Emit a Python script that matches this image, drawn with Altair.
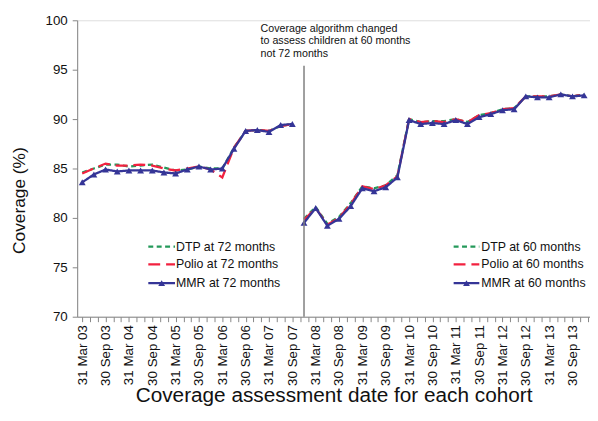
import json
import altair as alt
import pandas as pd

# ---------------- data ----------------
quarters_72 = ["Mar 03", "Jun 03", "Sep 03", "Dec 03", "Mar 04", "Jun 04", "Sep 04", "Dec 04",
               "Mar 05", "Jun 05", "Sep 05", "Dec 05", "Mar 06", "Jun 06", "Sep 06", "Dec 06",
               "Mar 07", "Jun 07", "Sep 07"]
dtp_72 = [84.6, 85.0, 85.4, 85.4, 85.2, 85.3, 85.4, 85.1, 84.8, 84.9, 85.2, 85.0, 85.0, 87.1, 88.8, 88.9, 88.8, 89.3, 89.5]
polio_72 = [84.5, 85.0, 85.5, 85.3, 85.3, 85.4, 85.3, 85.0, 84.8, 85.0, 85.2, 84.9, 84.1, 87.1, 88.8, 88.9, 88.8, 89.3, 89.5]
mmr_72 = [83.6, 84.4, 84.9, 84.7, 84.8, 84.8, 84.8, 84.6, 84.5, 84.9, 85.2, 84.9, 85.0, 87.0, 88.8, 88.9, 88.7, 89.4, 89.5]

quarters_60 = ["Dec 07", "Mar 08", "Jun 08", "Sep 08", "Dec 08", "Mar 09", "Jun 09", "Sep 09", "Dec 09",
               "Mar 10", "Jun 10", "Sep 10", "Dec 10", "Mar 11", "Jun 11", "Sep 11", "Dec 11",
               "Mar 12", "Jun 12", "Sep 12", "Dec 12", "Mar 13", "Jun 13", "Sep 13", "Dec 13"]
dtp_60 = [79.9, 81.1, 79.4, 80.1, 81.5, 83.2, 83.0, 83.3, 84.3, 90.0, 89.7, 89.8, 89.8, 90.0, 89.7, 90.4, 90.6, 91.0, 91.1, 92.3, 92.3, 92.3, 92.5, 92.3, 92.5]
polio_60 = [79.8, 81.0, 79.3, 80.0, 81.4, 83.2, 82.9, 83.3, 84.2, 90.0, 89.7, 89.8, 89.7, 90.0, 89.7, 90.4, 90.6, 91.0, 91.1, 92.3, 92.3, 92.3, 92.5, 92.3, 92.5]
mmr_60 = [79.5, 81.0, 79.2, 79.9, 81.2, 83.0, 82.7, 83.1, 84.1, 89.9, 89.5, 89.6, 89.5, 89.9, 89.5, 90.2, 90.5, 90.9, 91.0, 92.3, 92.2, 92.2, 92.5, 92.3, 92.4]

x_labels = ["31 Mar 03", "30 Sep 03", "31 Mar 04", "30 Sep 04", "31 Mar 05", "30 Sep 05",
            "31 Mar 06", "30 Sep 06", "31 Mar 07", "30 Sep 07", "31 Mar 08", "30 Sep 08",
            "31 Mar 09", "30 Sep 09", "31 Mar 10", "30 Sep 10", "31 Mar 11", "30 Sep 11",
            "31 Mar 12", "30 Sep 12", "31 Mar 13", "30 Sep 13"]

legend_72 = ["DTP at 72 months", "Polio at 72 months", "MMR at 72 months"]
legend_60 = ["DTP at 60 months", "Polio at 60 months", "MMR at 60 months"]

change_quarter = "Dec 07"
annotation = ["Coverage algorithm changed", "\u00a0to assess children at 60 months", "\u00a0not 72 months"]

# ---------------- helpers ----------------
MON = {"Mar": 3, "Jun": 6, "Sep": 9, "Dec": 12}


def month_index(q):
    m, y = q.split()
    return (int(y) - 3) * 12 + MON[m] - 3


rows = []
for vac, s72, s60 in [("DTP", dtp_72, dtp_60), ("Polio", polio_72, polio_60), ("MMR", mmr_72, mmr_60)]:
    for q, v in zip(quarters_72, s72):
        rows.append({"vaccine": vac, "cohort": "72", "m": month_index(q), "v": v})
    for q, v in zip(quarters_60, s60):
        rows.append({"vaccine": vac, "cohort": "60", "m": month_index(q), "v": v})
df = pd.DataFrame(rows)

styles = {
    "DTP": {"color": "#24995a", "dash": [5, 3.5]},
    "Polio": {"color": "#f2213f", "dash": [12, 6]},
    "MMR": {"color": "#353597", "dash": [1, 0]},
}

x_scale = alt.Scale(domain=[-1.3, 130.5], nice=False, zero=False)
y_scale = alt.Scale(domain=[70, 100], nice=False, zero=False)

label_expr = ("datum.value % 6 == 0 && datum.value <= 126 ? "
              + json.dumps(x_labels) + "[datum.value / 6] : ''")

x_axis = alt.Axis(values=list(range(0, 131, 2)), labelExpr=label_expr, labelAngle=270,
                  labelAlign="right", labelBaseline="middle", labelOverlap=False, labelFlush=False,
                  labelFontSize=13.5, labelPadding=3, labelColor="#111111",
                  tickSize=5, tickColor="#868686", domainColor="#868686", grid=False,
                  title="Coverage assessment date for each cohort", titleFontSize=21,
                  titleFontWeight="normal", titleColor="#111111", titleY=80, titleBaseline="middle")
y_axis = alt.Axis(values=[70, 75, 80, 85, 90, 95, 100], labelFontSize=13.5, labelPadding=5,
                  labelColor="#111111", tickSize=5, tickColor="#868686", domainColor="#868686",
                  grid=False, title="Coverage (%)", titleFontSize=17.5, titleFontWeight="normal",
                  titleColor="#111111", titleX=-58, titleY=182, titleBaseline="middle", titleAngle=270)

X = lambda: alt.X("m:Q", scale=x_scale, axis=x_axis)
Y = lambda: alt.Y("v:Q", scale=y_scale, axis=y_axis)

layers = []
base = alt.Chart(df)
for vac in ["DTP", "Polio", "MMR"]:
    st = styles[vac]
    layers.append(
        base.transform_filter(alt.datum.vaccine == vac)
        .mark_line(color=st["color"], strokeWidth=2.3, strokeDash=st["dash"])
        .encode(x=X(), y=Y(), detail="cohort:N")
    )

layers.append(
    base.transform_filter(alt.datum.vaccine == "MMR")
    .mark_point(shape="triangle-up", filled=True, opacity=1, size=48, color=styles["MMR"]["color"])
    .encode(x=X(), y=Y())
)

# vertical line marking the algorithm change
chg = pd.DataFrame({"m": [month_index(change_quarter)], "v": [70], "v2": [95.4]})
layers.append(
    alt.Chart(chg).mark_rule(color="#7f7f7f", strokeWidth=1.5)
    .encode(x=X(), y=Y(), y2="v2:Q")
)

for t, py in zip(annotation, [9, 21.5, 34]):
    layers.append(
        alt.Chart(chg).mark_text(align="left", baseline="middle", fontSize=10.8, dx=-44,
                                 color="#111111", font="Liberation Sans", text=t)
        .encode(x=X(), y=alt.value(py))
    )

# manual legends (pixel positions inside the plot area)
for labels, x0, x1, xt in [(legend_72, 72, 99, 100), (legend_60, 381, 407, 409)]:
    for lab, vac, py in zip(labels, ["DTP", "Polio", "MMR"], [229, 247, 266]):
        st = styles[vac]
        layers.append(
            alt.Chart(chg).mark_rule(color=st["color"], strokeWidth=2.3, strokeDash=st["dash"])
            .encode(x=alt.value(x0), x2=alt.value(x1), y=alt.value(py))
        )
        if vac == "MMR":
            layers.append(
                alt.Chart(chg).mark_point(shape="triangle-up", filled=True, opacity=1, size=48,
                                          color=st["color"])
                .encode(x=alt.value((x0 + x1) / 2), y=alt.value(py))
            )
        layers.append(
            alt.Chart(chg).mark_text(align="left", baseline="middle", fontSize=12.5,
                                     color="#111111", font="Liberation Sans", text=lab)
            .encode(x=alt.value(xt), y=alt.value(py))
        )

chart = (
    alt.layer(*layers)
    .properties(width=519, height=300,
                autosize=alt.AutoSizeParams(type="none"),
                padding={"left": 70, "top": 10, "right": 0, "bottom": 95})
    .configure_view(strokeWidth=0)
    .configure(font="Liberation Sans", background="white")
)

chart.save("out.html", embed_options={"renderer": "svg", "actions": False})
